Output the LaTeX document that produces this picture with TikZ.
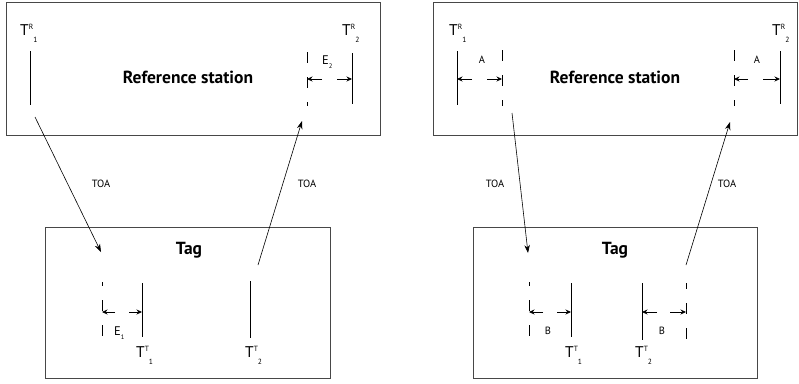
\documentclass[tikz,border=0pt]{standalone}
\usepackage{fontspec}
\setmainfont{PT Sans}
\usetikzlibrary{arrows.meta}
\newcommand\Tlab[2]{T\raisebox{6pt}{\fontsize{7.5}{8}\selectfont #1}\raisebox{-7pt}{\fontsize{7.5}{8}\selectfont #2}}
\newcommand\Elab[2]{#1\raisebox{-4pt}{\fontsize{6.5}{7}\selectfont #2}}
\begin{document}
\begin{tikzpicture}[x=1pt,y=-1pt,
  box/.style={draw=black!72, line width=1.1pt, inner sep=0pt},
  tick/.style={draw, line width=0.8pt},
  dtick/.style={draw, line width=0.8pt, dash pattern=on 11pt off 14pt},
  sig/.style={draw, line width=0.6pt, -{Stealth[length=8pt,width=5.5pt]}},
  dimar/.style={draw, line width=0.7pt, -{Stealth[length=5.5pt,width=5pt]}},
  title/.style={font=\bfseries\fontsize{17.5}{20}\selectfont, inner sep=0pt},
  lab/.style={font=\fontsize{10.5}{12}\selectfont, inner sep=0pt},
  tlab/.style={font=\fontsize{15.5}{17}\selectfont, inner sep=0pt, anchor=base west},
  elab/.style={font=\fontsize{12.5}{14}\selectfont, inner sep=0pt, anchor=base west}
]
\useasboundingbox (0,0) rectangle (799,383);

% ================= LEFT DIAGRAM =================
\node[box, minimum width=374pt, minimum height=133pt, anchor=north west] (rsL) at (6,2) {};
\node[box, minimum width=285pt, minimum height=151pt, anchor=north west] (tagL) at (45,227) {};
\node[title] (rsLt) at (188,77) {Reference station};
\node[title] (tagLt) at (189,250) {Tag};

% reference station time marks
\coordinate (L1a) at (30,51);  \coordinate (L1b) at (30,105);
\draw[tick] (L1a) -- (L1b);
\coordinate (L2a) at (307,52); \coordinate (L2b) at (307,106);
\draw[dtick] (L2a) -- (L2b);
\coordinate (L3a) at (352,53); \coordinate (L3b) at (352,104);
\draw[tick] (L3a) -- (L3b);
\node[tlab] (TR1L) at (20,35) {\Tlab{R}{1}};
\node[tlab] (TR2L) at (342,35) {\Tlab{R}{2}};
\coordinate (e2a) at (322,79); \coordinate (e2b) at (337,79);
\draw[dimar] (e2a) -- (L2a |- e2a);
\draw[dimar] (e2b) -- (L3a |- e2b);
\node[elab] (E2) at (322,64) {\Elab{E}{2}};

% tag time marks
\coordinate (L4a) at (102,282); \coordinate (L4b) at (102,337);
\draw[dtick, dash phase=7pt] (L4a) -- (L4b);
\coordinate (L5a) at (142,283); \coordinate (L5b) at (142,337);
\draw[tick] (L5a) -- (L5b);
\coordinate (L6a) at (250,281); \coordinate (L6b) at (250,338);
\draw[tick] (L6a) -- (L6b);
\node[tlab] (TT1L) at (136,357) {\Tlab{T}{1}};
\node[tlab] (TT2L) at (245,357) {\Tlab{T}{2}};
\coordinate (e1a) at (115,312); \coordinate (e1b) at (129,312);
\draw[dimar] (e1a) -- (L4a |- e1a);
\draw[dimar] (e1b) -- (L5a |- e1b);
\node[elab] (E1) at (114,335) {\Elab{E}{1}};

% signals
\coordinate (sL1s) at (35,117); \coordinate (sL1e) at (101,252);
\draw[sig] (sL1s) -- (sL1e);
\coordinate (sL2s) at (258,265); \coordinate (sL2e) at (302,121);
\draw[sig] (sL2s) -- (sL2e);
\node[lab] (toaL1) at (101,184) {TOA};
\node[lab] (toaL2) at (307,184) {TOA};

% ================= RIGHT DIAGRAM =================
\node[box, minimum width=364pt, minimum height=133pt, anchor=north west] (rsR) at (433,2) {};
\node[box, minimum width=284pt, minimum height=151pt, anchor=north west] (tagR) at (473,227) {};
\node[title] (rsRt) at (615,77) {Reference station};
\node[title] (tagRt) at (615,250) {Tag};

% reference station time marks
\coordinate (R1a) at (457,51);  \coordinate (R1b) at (457,105);
\draw[tick] (R1a) -- (R1b);
\coordinate (R2a) at (502,50); \coordinate (R2b) at (502,106);
\draw[dtick] (R2a) -- (R2b);
\coordinate (R3a) at (734,50); \coordinate (R3b) at (734,106);
\draw[dtick] (R3a) -- (R3b);
\coordinate (R4a) at (780,51); \coordinate (R4b) at (780,104);
\draw[tick] (R4a) -- (R4b);
\node[tlab] (TR1R) at (449,35) {\Tlab{R}{1}};
\node[tlab] (TR2R) at (772,35) {\Tlab{R}{2}};
\coordinate (a1a) at (472,79); \coordinate (a1b) at (487,79);
\draw[dimar] (a1a) -- (R1a |- a1a);
\draw[dimar] (a1b) -- (R2a |- a1b);
\node[lab] (A1) at (482,60) {A};
\coordinate (a2a) at (748,79); \coordinate (a2b) at (763,79);
\draw[dimar] (a2a) -- (R3a |- a2a);
\draw[dimar] (a2b) -- (R4a |- a2b);
\node[lab] (A2) at (757,60) {A};

% tag time marks
\coordinate (R5a) at (529,282); \coordinate (R5b) at (529,337);
\draw[dtick, dash phase=7pt] (R5a) -- (R5b);
\coordinate (R6a) at (571,283); \coordinate (R6b) at (571,337);
\draw[tick] (R6a) -- (R6b);
\coordinate (R7a) at (642,283); \coordinate (R7b) at (642,340);
\draw[tick] (R7a) -- (R7b);
\coordinate (R8a) at (686,283); \coordinate (R8b) at (686,340);
\draw[dtick, dash phase=5pt] (R8a) -- (R8b);
\node[tlab] (TT1R) at (565,357) {\Tlab{T}{1}};
\node[tlab] (TT2R) at (635,357) {\Tlab{T}{2}};
\coordinate (b1a) at (543,312); \coordinate (b1b) at (557,312);
\draw[dimar] (b1a) -- (R5a |- b1a);
\draw[dimar] (b1b) -- (R6a |- b1b);
\node[lab] (B1) at (548,331) {B};
\coordinate (b2a) at (657,312); \coordinate (b2b) at (670,312);
\draw[dimar] (b2a) -- (R7a |- b2a);
\draw[dimar] (b2b) -- (R8a |- b2b);
\node[lab] (B2) at (662,331) {B};

% signals
\coordinate (sR1s) at (512,113); \coordinate (sR1e) at (528,253);
\draw[sig] (sR1s) -- (sR1e);
\coordinate (sR2s) at (686,265); \coordinate (sR2e) at (730,122);
\draw[sig] (sR2s) -- (sR2e);
\node[lab] (toaR1) at (495,184) {TOA};
\node[lab] (toaR2) at (727,184) {TOA};
\end{tikzpicture}
\end{document}
